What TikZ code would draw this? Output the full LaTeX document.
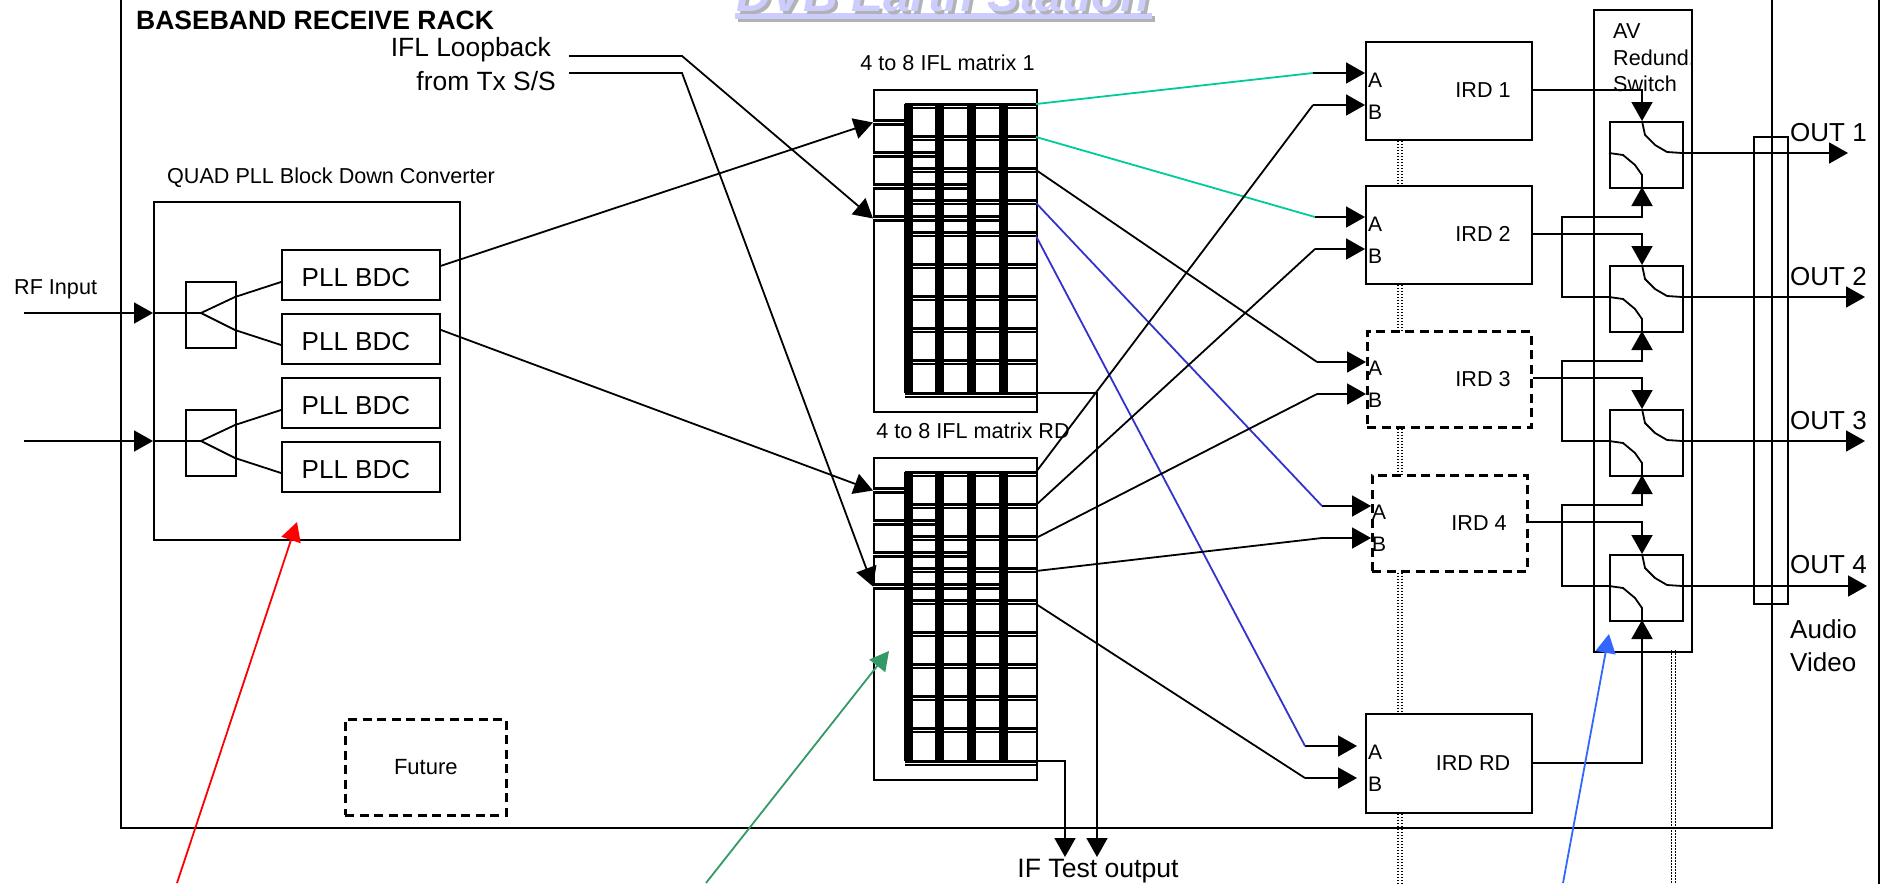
\documentclass[tikz,border=0pt]{standalone}
\usepackage{fontspec}
\setmainfont{Liberation Sans}
\usetikzlibrary{arrows.meta,calc}

\definecolor{titlefill}{HTML}{CCCCFF}
\definecolor{titleshade}{HTML}{B2B2B2}
\definecolor{linkgreen}{HTML}{00CC99}
\definecolor{linkblue}{HTML}{3333CC}
\definecolor{notegreen}{HTML}{339966}
\definecolor{noteblue}{HTML}{3366FF}

\newcommand{\fs}[1]{\fontsize{#1pt}{#1pt}\selectfont}

\tikzset{
    wire/.style={line width=1.8pt},
    feed/.style={wire,-{Triangle[length=19pt,width=21pt]}},
    note/.style={line width=1.8pt,-{Triangle[length=19pt,width=20pt]}},
    box/.style={draw,line width=1.8pt,inner sep=0pt,anchor=north west,align=center},
    dashbox/.style={box,line width=2.6pt,dash pattern=on 9pt off 5.5pt},
    matrixbox/.style={box,minimum width=163pt,minimum height=322pt},
    plbox/.style={box,minimum width=158pt,minimum height=50pt},
    irdbox/.style={box,minimum width=166pt,minimum height=98pt},
    switchbox/.style={box,minimum width=73pt,minimum height=66pt},
    splitbox/.style={box,minimum width=50pt,minimum height=66pt},
    txt/.style={inner sep=0pt,font=\fs{21.6}},
    outlabel/.style={inner sep=0pt,anchor=west,font=\fs{26}},
    slink/.style={line width=1.4pt,dash pattern=on 1.5pt off 1.5pt},
    row/.style={line width=6.4pt,postaction={draw,white,line width=1pt}}
}

\begin{document}
\begin{tikzpicture}[x=1pt,y=-1pt]

    \clip (0,0) rectangle (1886,883);

    %title:
    \fill[titleshade] (738,16) rectangle (1155,22);
    \fill[titlefill] (735,13) rectangle (1152,19);
    \node[anchor=base,inner sep=0pt,text=titleshade,font=\fs{48}\bfseries\itshape] at (946.5,15) {DVB Earth Station};
    \node[anchor=base,inner sep=0pt,text=titlefill,font=\fs{48}\bfseries\itshape] (title) at (943.5,12) {DVB Earth Station};

    %rack and page edge:
    \draw[wire] (121,-5) -- (121,828) -- (1772,828) -- (1772,-5);
    \draw[wire] (1879,-5) -- (1879,890);
    \node[anchor=west,inner sep=0pt,font=\fs{26.5}\bfseries] (racktitle) at (136,20) {BASEBAND RECEIVE RACK};

    %down converter:
    \node[box,minimum width=306pt,minimum height=338pt] (quad) at (153,201) {};
    \node[txt] at (331,178) {QUAD PLL Block Down Converter};
    \node[splitbox] (splita) at (185,281) {};
    \node[splitbox] (splitb) at (185,409) {};
    \foreach \n/\ty in {pll1/249,pll2/313,pll3/377,pll4/441}{
        \node[plbox] (\n) at (281,\ty) {};
        \node[txt,font=\fs{26}] at ([xshift=-5pt,yshift=-3pt]\n.center) {PLL BDC};
    }

    \node[txt,anchor=west] (rfin) at (14,289) {RF Input};
    \coordinate (rfa) at (24,313);
    \coordinate (rfb) at (24,441);
    \coordinate (forka) at (201,313);
    \coordinate (forkb) at (201,441);
    \draw[feed] (rfa) -- (rfa -| quad.west);
    \draw[feed] (rfb) -- (rfb -| quad.west);
    \draw[wire] (rfa -| quad.west) -- (forka);
    \draw[wire] (rfb -| quad.west) -- (forkb);
    \draw[wire] (forka) -- (235,297) -- (pll1.west |- 0,282);
    \draw[wire] (forka) -- (235,330) -- (pll2.west |- 0,345);
    \draw[wire] (forkb) -- (235,425) -- (pll3.west |- 0,410);
    \draw[wire] (forkb) -- (235,458) -- (pll4.west |- 0,473);

    %switch matrices:
    \foreach \m/\ty in {mxa/89,mxb/457}{
        \node[matrixbox] (\m) at (873,\ty) {};
        \foreach \i in {0,...,8}
            \draw[row] (905,\ty+17+32*\i) -- (1036,\ty+17+32*\i);
        \draw[row] (905,\ty+306) -- (1036,\ty+306);
        \foreach \i/\xe in {0/905,1/935,2/967,3/999}{
            \coordinate (\m-in\i) at (873,\ty+33.5+32*\i);
            \draw[row] (\m-in\i) -- (\xe,\ty+33.5+32*\i);
        }
        \foreach \x/\w in {908.5/9,939.5/9,971.5/9,1003.5/9}
            \fill (\x-\w/2,\ty+15) rectangle (\x+\w/2,\ty+304);
        \foreach \i in {0,...,4}
            \coordinate (\m-out\i) at (1036,\ty+15+33*\i);
        \coordinate (\m-test) at (1036,\ty+304);
    }
    \node[txt] at (947.5,63) {4 to 8 IFL matrix 1};
    \node[txt] at (973,431) {4 to 8 IFL matrix RD};

    \draw[feed] ([yshift=9pt]pll1.east) -- (mxa-in0);
    \draw[feed] ([yshift=9pt]pll2.east) -- (mxb-in0);

    %loopback:
    \node[inner sep=0pt,anchor=east,font=\fs{26.4}] (loopa) at (551,50) {IFL Loopback};
    \node[inner sep=0pt,anchor=east,font=\fs{26.4}] (loopb) at (556,81) {from Tx S/S};
    \draw[feed] (569,56) -- (682,56) -- (mxa-in3);
    \draw[feed] (569,73) -- (682,73) -- (mxb-in3);

    %test outputs:
    \node[inner sep=0pt,font=\fs{26.6}] (iftest) at (1098,871) {IF Test output};
    \coordinate (testb) at (1065,857);
    \coordinate (testa) at (1097,857);
    \draw[feed] (mxa-test) -- (testa |- mxa-test) -- (testa);
    \draw[feed] (mxb-test) -- (testb |- mxb-test) -- (testb);

    %receivers:
    \node[irdbox] (ird1) at (1365,41) {};
    \node[irdbox] (ird2) at (1365,185) {};
    \node[irdbox,dashbox,minimum width=164pt,minimum height=96pt] (ird3) at (1366,330) {};
    \node[irdbox,dashbox,minimum width=155pt,minimum height=96pt] (ird4) at (1371,474) {};
    \node[irdbox,minimum height=99pt] (irdrd) at (1365,713) {};
    \foreach \n/\x/\y/\name in {ird1/1483/90/IRD 1,ird2/1483/234/IRD 2,ird3/1483/379/IRD 3,ird4/1479/523/IRD 4,irdrd/1473/763/IRD RD}
        \node[txt] at (\x,\y) {\name};
    \foreach \x/\y in {1368/80,1368/224,1368/368,1372/512,1368/752}{
        \node[txt,anchor=west,font=\fs{21}] at (\x,\y) {A};
        \node[txt,anchor=west,font=\fs{21}] at (\x,\y+32) {B};
    }

    \foreach \n/\xs/\xe/\ya/\yb in {ird1/1313/1365/73/105,ird2/1315/1365/217/249,ird3/1317/1366/362/394,ird4/1322/1371/506/538,irdrd/1305/1357/746/778}{
        \coordinate (\n-a) at (\xe,\ya);
        \coordinate (\n-b) at (\xe,\yb);
        \coordinate (\n-sa) at (\xs,\ya);
        \coordinate (\n-sb) at (\xs,\yb);
        \draw[feed] (\n-sa) -- (\n-a);
        \draw[feed] (\n-sb) -- (\n-b);
    }

    \draw[wire,linkgreen] (mxa-out0) -- (ird1-sa);
    \draw[wire,linkgreen] (mxa-out1) -- (ird2-sa);
    \draw[wire] (mxa-out2) -- (ird3-sa);
    \draw[wire,linkblue] (mxa-out3) -- (ird4-sa);
    \draw[wire,linkblue] (mxa-out4) -- (irdrd-sa);
    \draw[wire] (mxb-out0) -- (ird1-sb);
    \draw[wire] (mxb-out1) -- (ird2-sb);
    \draw[wire] (mxb-out2) -- (ird3-sb);
    \draw[wire] (mxb-out3) -- (ird4-sb);
    \draw[wire] (mxb-out4) -- (irdrd-sb);

    %links between the receivers:
    \coordinate (bus) at (1400,0);
    \coordinate (swbus) at (1673.5,0);
    \foreach \dx in {-2,2}{
        \draw[slink] ([xshift=\dx pt]bus |- ird1.south) -- ([xshift=\dx pt]bus |- ird2.north);
        \draw[slink] ([xshift=\dx pt]bus |- ird2.south) -- ([xshift=\dx pt]bus |- ird3.north);
        \draw[slink] ([xshift=\dx pt]bus |- ird3.south) -- ([xshift=\dx pt]bus |- ird4.north);
        \draw[slink] ([xshift=\dx pt]bus |- ird4.south) -- ([xshift=\dx pt]bus |- irdrd.north);
        \draw[slink] ([xshift=\dx pt]bus |- irdrd.south) -- ([xshift=\dx pt]bus |- 0,890);
        \draw[slink] ([xshift=\dx pt]swbus |- 0,650) -- ([xshift=\dx pt]swbus |- 0,890);
    }

    %redundancy switch:
    \node[box,minimum width=98pt,minimum height=642pt] (avsw) at (1593,9) {};
    \node[txt,anchor=north west,align=left,font=\fontsize{21.6pt}{26.5pt}\selectfont] at (1613,23.5) {AV\\Redund.\\Switch};

    \foreach \n/\ty in {swa/121,swb/265,swc/409,swd/554}{
        \node[switchbox] (\n) at (1609,\ty) {};
        \coordinate (\n-top) at (1642,\ty);
        \coordinate (\n-bot) at (1642,\ty+66);
        \coordinate (\n-st) at (1642,\ty+96);
        \coordinate (\n-in) at (1609,\ty+32);
        \coordinate (\n-out) at (1682,\ty+32);
        \draw[wire] (\n-top) -- ++(3,14) -- ++(10,10) -- ++(12,7) -- (\n-out);
        \draw[wire] (\n-in) -- ++(14,2) -- ++(12,10) -- ++(7,10) -- (\n-bot);
    }

    %receiver outputs:
    \draw[feed] ([yshift=1pt]ird1.east) -- ([yshift=1pt]swa-top |- ird1.east) -- (swa-top);
    \draw[feed] ([yshift=1pt]ird2.east) -- ([yshift=1pt]swb-top |- ird2.east) -- (swb-top);
    \draw[feed] ([yshift=1pt]ird3.east) -- ([yshift=1pt]swc-top |- ird3.east) -- (swc-top);
    \draw[feed] ([yshift=1pt]ird4.east) -- ([yshift=1pt]swd-top |- ird4.east) -- (swd-top);
    \draw[feed] ([yshift=.5pt]irdrd.east) -- ([yshift=.5pt]swd-bot |- irdrd.east) -- (swd-bot);

    %standby chain:
    \foreach \a/\b in {swa/swb,swb/swc,swc/swd}
        \draw[feed] (\b-in) -- (1562,0 |- \b-in) -- (1562,0 |- \a-st) -- (\a-st) -- (\a-bot);

    %outputs:
    \draw[wire] (1754,137) rectangle (1788,604);
    \node[outlabel] (outa) at (1790,133) {OUT 1};
    \node[outlabel] (outb) at (1790,277) {OUT 2};
    \node[outlabel] (outc) at (1790,421) {OUT 3};
    \node[outlabel] (outd) at (1790,565) {OUT 4};
    \draw[feed] (swa-out) -- (1848,0 |- swa-out);
    \draw[feed] (swb-out) -- (1865,0 |- swb-out);
    \draw[feed] (swc-out) -- (1865,0 |- swc-out);
    \draw[feed] (swd-out) -- (1867,0 |- swd-out);
    \node[outlabel] at (1790,629) {Audio};
    \node[outlabel] at (1790,662) {Video};

    \node[box,dashbox,minimum width=161pt,minimum height=96pt,font=\fs{22}] (future) at (344,718) {Future};

    %pointers from below:
    \coordinate (tipa) at (297,522);
    \coordinate (tipb) at (889,651);
    \coordinate (tipc) at (1609,634);
    \draw[note,red] (177,883) -- (tipa);
    \draw[note,notegreen] (706,883) -- (tipb);
    \draw[note,noteblue] (1563,883) -- (tipc);

\end{tikzpicture}
\end{document}
